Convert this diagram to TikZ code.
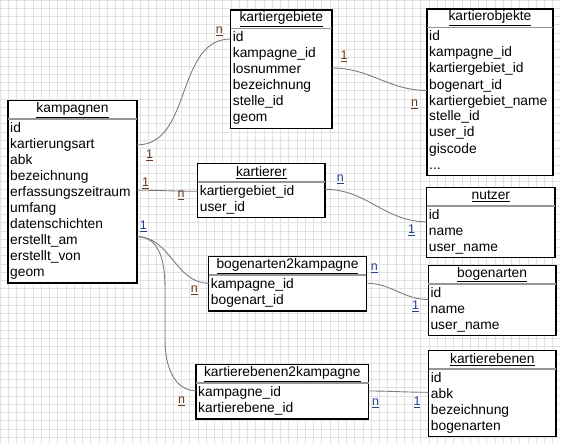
\documentclass[tikz,border=0pt]{standalone}
\usepackage{fontspec}
\setmainfont{Liberation Sans}
\usepackage{tikz}
\usetikzlibrary{calc}
\definecolor{GridGray}{RGB}{226,226,226}
\definecolor{LinkGray}{RGB}{125,125,125}
\definecolor{SepGray}{RGB}{150,150,150}
\definecolor{CardBrown}{RGB}{105,55,25}
\definecolor{CardBlue}{RGB}{35,65,140}
\tikzset{
  hd/.style={draw=black,fill=white,line width=1.3pt,outer sep=0pt,inner sep=0pt,minimum height=18.5pt,anchor=north west,font=\fontsize{13.8}{16}\selectfont},
  fd/.style={draw=black,fill=white,line width=1.3pt,outer sep=0pt,inner xsep=2.2pt,inner ysep=3.5pt,align=left,anchor=north west,font=\fontsize{13.8}{16}\selectfont},
  hdline/.style={SepGray,line width=1.6pt},
  rel/.style={LinkGray,line width=0.9pt},
  bcard/.style={CardBrown,inner sep=0pt,font=\fontsize{12.5}{14}\selectfont},
  ucard/.style={CardBlue,inner sep=0pt,font=\fontsize{12.5}{14}\selectfont},
  gridline/.style={GridGray,line width=0.8pt},
}
\begin{document}
\begin{tikzpicture}[x=1pt,y=-1pt]
    \useasboundingbox (0,0) rectangle (561,444);
    \fill[white] (0,0) rectangle (561,444);
    \draw[gridline,step=8.25pt] (0,444) grid (561,0);
    %% Left table
    \node[hd,minimum width=129pt] (kampagnen) at (8,100.7) {\underline{kampagnen}};
    \node[fd,text width=124.6pt] (kampagnen-f) at (kampagnen.south west) {id\\kartierungsart\\abk\\bezeichnung\\erfassungszeitraum\\umfang\\datenschichten\\erstellt\_am\\erstellt\_von\\geom};
    %% Middle tables
    \node[hd,minimum width=101.3pt] (gebiete) at (230.7,10) {\underline{kartiergebiete}};
    \node[fd,text width=96.9pt] (gebiete-f) at (gebiete.south west) {id\\kampagne\_id\\losnummer\\bezeichnung\\stelle\_id\\geom};
    \node[hd,minimum width=127.3pt] (kartierer) at (197.7,163.3) {\underline{kartierer}};
    \node[fd,text width=122.9pt] (kartierer-f) at (kartierer.south west) {kartiergebiet\_id\\user\_id};
    \node[hd,minimum width=157.6pt] (bogen2k) at (208.7,256.7) {\underline{bogenarten2kampagne}};
    \node[fd,text width=153.2pt] (bogen2k-f) at (bogen2k.south west) {kampagne\_id\\bogenart\_id};
    \node[hd,minimum width=172.7pt] (ebenen2k) at (196,364.7) {\underline{kartierebenen2kampagne}};
    \node[fd,text width=168.3pt] (ebenen2k-f) at (ebenen2k.south west) {kampagne\_id\\kartierebene\_id};
    %% Right tables
    \node[hd,minimum width=126pt] (objekte) at (427,9) {\underline{kartierobjekte}};
    \node[fd,text width=121.6pt] (objekte-f) at (objekte.south west) {id\\kampagne\_id\\kartiergebiet\_id\\bogenart\_id\\kartiergebiet\_name\\stelle\_id\\user\_id\\giscode\\...\vphantom{g}};
    \node[hd,minimum width=128.3pt] (nutzer) at (426.7,187.3) {\underline{nutzer}};
    \node[fd,text width=123.9pt] (nutzer-f) at (nutzer.south west) {id\\name\\user\_name};
    \node[hd,minimum width=127.7pt] (bogenarten) at (428.3,265.3) {\underline{bogenarten}};
    \node[fd,text width=123.3pt] (bogenarten-f) at (bogenarten.south west) {id\\name\\user\_name};
    \node[hd,minimum width=127.3pt] (ebenen) at (428.7,350.3) {\underline{kartierebenen}};
    \node[fd,text width=122.9pt] (ebenen-f) at (ebenen.south west) {id\\abk\\bezeichnung\\bogenarten};
    %% Header rules
    \draw[hdline] (kampagnen.south west) -- (kampagnen.south east);
    \draw[hdline] (gebiete.south west) -- (gebiete.south east);
    \draw[hdline] (kartierer.south west) -- (kartierer.south east);
    \draw[hdline] (bogen2k.south west) -- (bogen2k.south east);
    \draw[hdline] (ebenen2k.south west) -- (ebenen2k.south east);
    \draw[hdline] (objekte.south west) -- (objekte.south east);
    \draw[hdline] (nutzer.south west) -- (nutzer.south east);
    \draw[hdline] (bogenarten.south west) -- (bogenarten.south east);
    \draw[hdline] (ebenen.south west) -- (ebenen.south east);
    %% Relations
    \draw[rel] ($(kampagnen-f.north east)+(0,25.7)$) to[out=0,in=180] ($(gebiete-f.north west)+(0,10.5)$);
    \draw[rel] ($(gebiete-f.north east)+(0,39.5)$) to[out=0,in=180] ($(objekte-f.north west)+(0,63)$);
    \draw[rel] ($(kampagnen-f.north east)+(0,71)$) to[out=0,in=180] ($(kartierer-f.north west)+(0,9.5)$);
    \draw[rel] ($(kartierer-f.north east)+(0,7.5)$) to[out=0,in=180] ($(nutzer-f.north west)+(0,16)$);
    \draw[rel] ($(kampagnen-f.north east)+(0,117.5)$) to[out=0,in=180] ($(bogen2k-f.north west)+(0,8)$);
    \draw[rel] ($(kampagnen-f.north east)+(0,117.5)$) .. controls +(24,0) and +(0,-26) .. (165,290)
        -- (165,340) .. controls +(0,26) and +(-22,0) .. ($(ebenen2k-f.north west)+(0,7.5)$);
    \draw[rel] ($(bogen2k-f.north east)+(0,8)$) to[out=0,in=180] ($(bogenarten-f.north west)+(0,15.7)$);
    \draw[rel] ($(ebenen2k-f.north east)+(0,7.8)$) to[out=0,in=180] ($(ebenen-f.north west)+(0,23.5)$);
    %% Cardinalities
    \node[bcard] (c1a) at (149.7,155.5) {\underline{1}};
    \node[bcard] (c1b) at (219.3,31) {\underline{n}};
    \node[bcard] (c2a) at (344,56) {\underline{1}};
    \node[bcard] (c2b) at (414.7,104) {\underline{n}};
    \node[bcard] (c3a) at (145.7,183) {\underline{1}};
    \node[bcard] (c3b) at (181,195.5) {\underline{n}};
    \node[ucard] (c4a) at (340.3,179.5) {\underline{n}};
    \node[ucard] (c4b) at (411.7,230.5) {\underline{1}};
    \node[ucard] (c5a) at (143.3,226.5) {\underline{1}};
    \node[bcard] (c5b) at (194.3,290.5) {\underline{n}};
    \node[bcard] (c6b) at (181.7,401.5) {\underline{n}};
    \node[ucard] (c7a) at (374.3,268) {\underline{n}};
    \node[ucard] (c7b) at (415.7,306) {\underline{1}};
    \node[ucard] (c8a) at (375.7,403) {\underline{n}};
    \node[ucard] (c8b) at (417,402) {\underline{1}};
  \end{tikzpicture}
\end{document}
